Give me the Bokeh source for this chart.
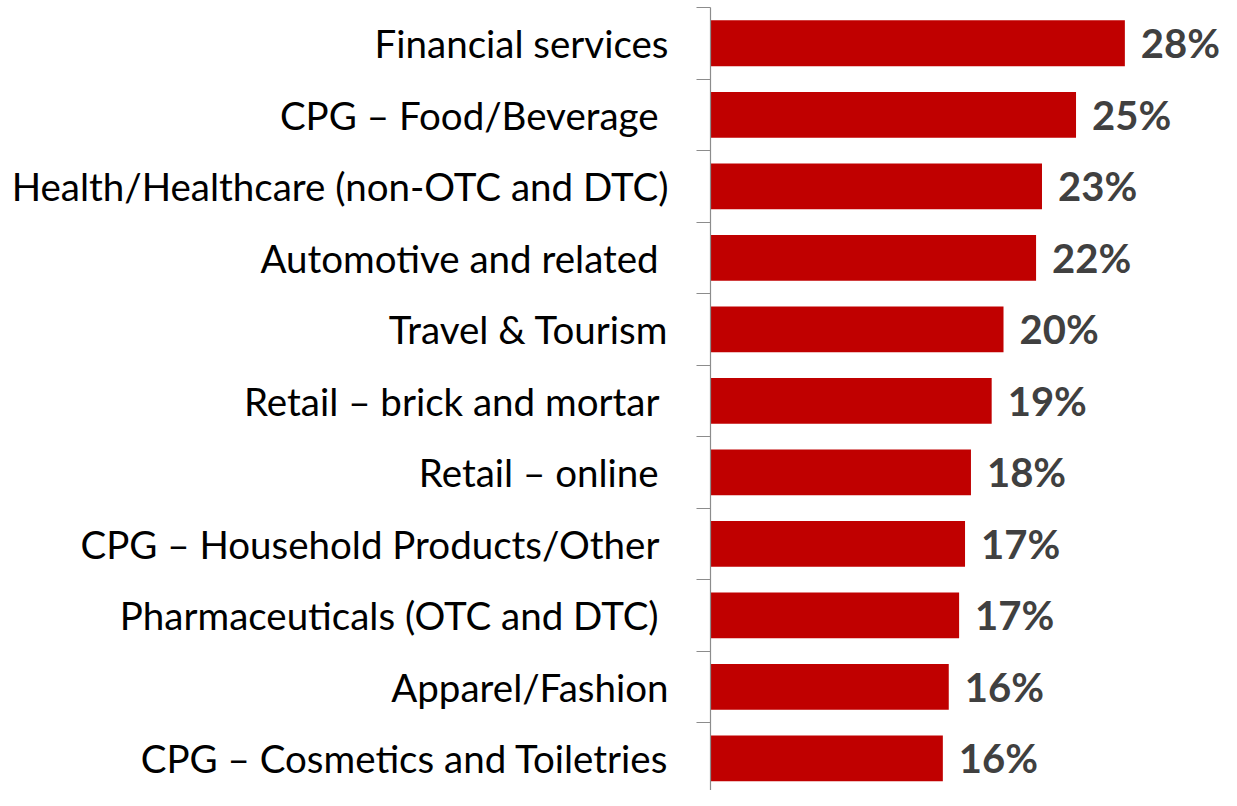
from bokeh.plotting import figure
from bokeh.models import Range1d, FixedTicker, ColumnDataSource
from bokeh.core.properties import value
from bokeh.embed import file_html
from bokeh.resources import INLINE

categories = [
    "Financial services",
    "CPG \u2013 Food/Beverage\u00a0",
    "Health/Healthcare (non-OTC and DTC)",
    "Automotive and related\u00a0",
    "Travel & Tourism",
    "Retail \u2013 brick and mortar\u00a0",
    "Retail \u2013 online\u00a0",
    "CPG \u2013 Household Products/Other\u00a0",
    "Pharmaceuticals (OTC and DTC)\u00a0",
    "Apparel/Fashion",
    "CPG \u2013 Cosmetics and Toiletries",
]
values = [28.0, 24.7, 22.4, 22.0, 19.8, 19.0, 17.6, 17.2, 16.8, 16.1, 15.7]
value_labels = ["28%", "25%", "23%", "22%", "20%", "19%", "18%", "17%", "17%", "16%", "16%"]

idx = list(range(len(categories)))
src = ColumnDataSource(dict(y=idx, v=values, lab=value_labels))

p = figure(width=1221, height=790, output_backend="svg", toolbar_location=None,
           x_range=Range1d(0, 34.53), y_range=Range1d(10.45, -0.5),
           min_border_left=710, min_border_right=0, min_border_top=7, min_border_bottom=0)
p.outline_line_color = None
p.xgrid.visible = False
p.ygrid.visible = False
p.xaxis.visible = False

p.hbar(y="y", left=0, right="v", height=0.64, source=src, color="#C00000", line_color=None)
p.text(x="v", y="y", text="lab", source=src, x_offset=16, text_baseline="middle",
       text_align="left", text_font=value("Lato"), text_font_style="bold",
       text_font_size="40px", text_color="#404040")

ya = p.yaxis[0]
ya.ticker = FixedTicker(ticks=idx, minor_ticks=[i - 0.5 for i in range(len(categories))])
ya.major_label_overrides = {i: c for i, c in enumerate(categories)}
ya.major_tick_out = 0
ya.major_tick_in = 0
ya.minor_tick_out = 14
ya.minor_tick_in = 0
ya.axis_line_color = "#8C8C8C"
ya.minor_tick_line_color = "#8C8C8C"
ya.axis_line_width = 1.2
ya.minor_tick_line_width = 1.2
ya.major_label_standoff = 28
ya.major_label_text_font = "Lato"
ya.major_label_text_font_size = "38.5px"
ya.major_label_text_color = "#000000"

open("out.html", "w").write(file_html(p, INLINE))
